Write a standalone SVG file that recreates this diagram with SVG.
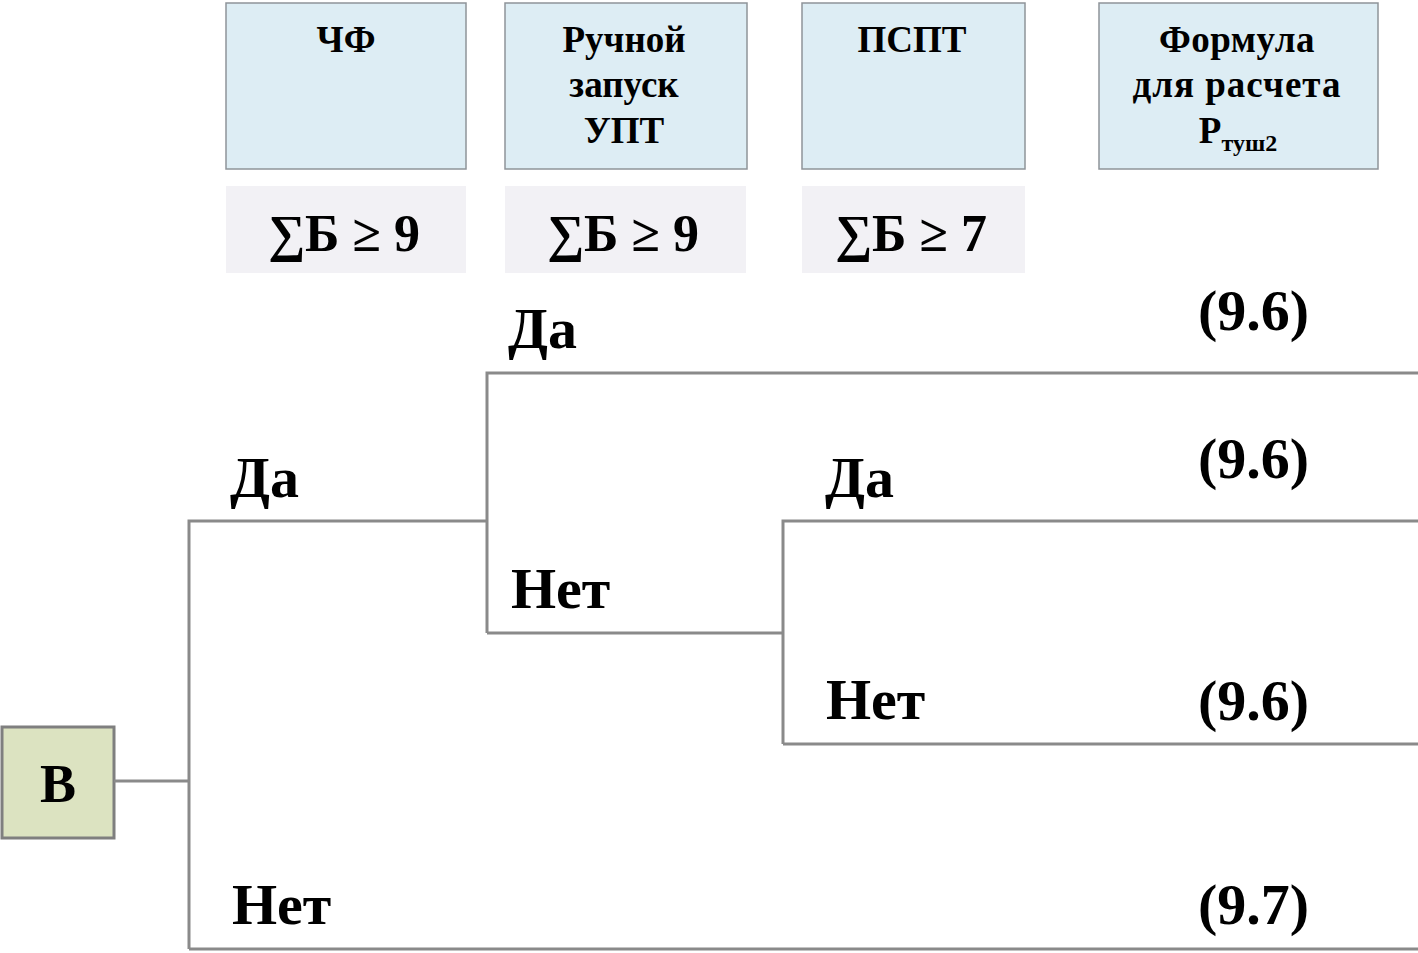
<svg xmlns="http://www.w3.org/2000/svg" width="1418" height="953" viewBox="0 0 1418 953">
<style>
.hdr{fill:#ddedf4;stroke:#8e9499;stroke-width:1.5}
.sum{fill:#f2f1f5;stroke:none}
.t{font-family:"Liberation Serif","Times New Roman",serif;font-weight:bold;fill:#000}
.h{font-size:37px;text-anchor:middle}
.s{font-size:52px;text-anchor:middle}
.l{font-size:58px}
.c{fill:none;stroke:#8a8a8a;stroke-width:3}
</style>
<rect width="1418" height="953" fill="#ffffff"/>
<g id="hdr-chf"><rect class="hdr" x="226" y="3" width="240" height="166"/><text class="t h" x="346" y="52">ЧФ</text></g>
<g id="hdr-manual"><rect class="hdr" x="505" y="3" width="242" height="166"/><text class="t h" x="624" y="52">Ручной</text><text class="t h" x="624" y="97">запуск</text><text class="t h" x="624" y="143">УПТ</text></g>
<g id="hdr-pspt"><rect class="hdr" x="802" y="3" width="223" height="166"/><text class="t h" x="912" y="52">ПСПТ</text></g>
<g id="hdr-formula"><rect class="hdr" x="1099" y="3" width="279" height="166"/><text class="t h" x="1237" y="52" letter-spacing="0.5">Формула</text><text class="t h" x="1237" y="97" letter-spacing="1">для расчета</text><text class="t h" x="1238" y="143">P<tspan font-size="24" dy="8">туш2</tspan></text></g>
<g id="sum-chf"><rect class="sum" x="226" y="186" width="240" height="87"/><text class="t s" x="344" y="251">∑Б ≥ 9</text></g>
<g id="sum-manual"><rect class="sum" x="505" y="186" width="241" height="87"/><text class="t s" x="623" y="251">∑Б ≥ 9</text></g>
<g id="sum-pspt"><rect class="sum" x="802" y="186" width="223" height="87"/><text class="t s" x="911" y="251">∑Б ≥ 7</text></g>
<g id="node-b"><rect x="2" y="727" width="112" height="111" fill="#dce3c1" stroke="#7f7f7f" stroke-width="3"/><text class="t" x="58" y="802" font-size="54" text-anchor="middle">В</text></g>
<g id="connectors">
<path class="c" d="M114 781H189M189 949V521H487M487 633V373H1418M487 633H783M783 744V521H1418M783 744H1418M189 949H1418"/>
</g>
<g id="labels">
<text class="t l" x="230" y="497">Да</text>
<text class="t l" x="508" y="348">Да</text>
<text class="t l" x="825" y="497">Да</text>
<text class="t l" x="511" y="608">Нет</text>
<text class="t l" x="826" y="719">Нет</text>
<text class="t l" x="232" y="924">Нет</text>
<text class="t l" x="1198" y="330">(9.6)</text>
<text class="t l" x="1198" y="478">(9.6)</text>
<text class="t l" x="1198" y="720">(9.6)</text>
<text class="t l" x="1198" y="924">(9.7)</text>
</g>
</svg>
